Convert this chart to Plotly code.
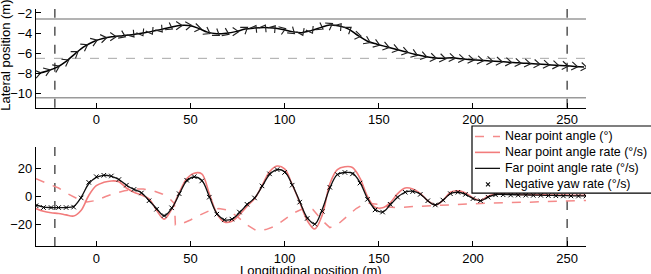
import numpy as np
import plotly.graph_objects as go

# ---------------- data ----------------
traj_x = [-31, -26, -21, -16, -11, -6, -1, 4, 9, 14, 19, 24, 29, 34, 39, 44, 49, 54, 59, 64,
          69, 74, 79, 84, 89, 94, 99, 104, 109, 114, 119, 124, 129, 134, 139, 144, 149, 154, 159, 164,
          169, 174, 179, 184, 189, 194, 199, 204, 209, 214, 219, 224, 229, 234, 239, 244, 249, 254, 259]
traj_y = [-8.0, -7.75, -7.4, -6.8, -6.0, -5.3, -4.8, -4.5, -4.35, -4.25, -4.15, -4.0, -3.85, -3.65, -3.45, -3.25, -3.25, -3.5, -3.9, -4.05,
          -4.0, -3.85, -3.6, -3.5, -3.45, -3.5, -3.65, -3.85, -3.95, -3.75, -3.45, -3.2, -3.3, -3.6, -4.25, -4.8, -5.1, -5.35, -5.6, -5.85,
          -6.1, -6.3, -6.45, -6.5, -6.45, -6.55, -6.63, -6.7, -6.76, -6.82, -6.88, -6.95, -7.0, -7.06, -7.12, -7.18, -7.24, -7.3, -7.36]
chev_angle = [15, 20, 25, 30, 35, 30, 20, 10, 0, -25, -50, -60, -60, -50, -30, 0, 5, -10, -30, -35,
              -25, 0, 35, 60, 60, 50, 20, -40, -65, -60, -30, 30, 50, 35, -10, -25, -20, -15, -15, -15,
              -20, -15, -10, -10, -8, -8, -8, -8, -8, -8, -8, -8, -8, -8, -8, -8, -8, -8, -8]

lane_lines = [-2.6, -10.4]
lane_center = [-6.5]
event_x = [-22, 250]

rate_x = [-32, -28, -24, -20, -16, -12, -8, -4, 0, 4, 8, 12, 16, 20, 24, 28, 32, 36, 40, 44,
          48, 52, 56, 60, 64, 68, 72, 76, 80, 84, 88, 92, 96, 100, 104, 108, 112, 116, 120, 124,
          128, 132, 136, 140, 144, 148, 152, 156, 160, 164, 168, 172, 176, 180, 184, 188, 192, 196, 200, 204,
          208, 212, 216, 220, 224, 228, 232, 236, 240, 244, 248, 252, 256, 260]
far_rate = [-6.0, -7.5, -7.8, -7.8, -7.8, -7.0, -0.5, 9.0, 13.5, 15.0, 14.3, 12.0, 8.0, 5.0, 2.7, -2.8, -8.5, -13.8, -8.5, 1.5,
            11.0, 13.8, 11.5, 0.0, -12.0, -16.5, -16.0, -11.5, -5.8, -1.2, 7.0, 15.5, 19.0, 17.5, 8.5, -3.5, -15.0, -19.5, -9.0, 6.0,
            15.5, 17.0, 16.5, 10.0, -1.5, -9.0, -11.0, -6.0, -0.5, 3.0, 3.7, 1.8, -3.0, -6.0, -2.8, 2.0, 3.0, 1.5, -1.5, -3.0,
            -0.5, 1.4, 1.5, 1.3, 1.2, 1.1, 1.0, 0.9, 0.8, 0.7, 0.6, 0.5, 0.4, 0.4]
near_rate = [-8.5, -10.5, -11.5, -12.0, -13.0, -13.8, -9.7, 0.7, 7.6, 10.0, 11.0, 10.5, 6.0, 3.0, 1.0, -1.6, -9.7, -16.0, -9.0, 2.5,
             12.5, 16.5, 16.0, 2.0, -12.0, -18.0, -17.5, -13.0, -7.0, -1.6, 7.6, 17.5, 21.5, 19.5, 8.5, -4.0, -17.0, -23.0, -13.0, 9.0,
             19.0, 21.0, 20.5, 13.0, 0.0, -7.5, -8.0, -4.5, 2.0, 6.0, 5.3, 2.2, -3.0, -6.0, -2.8, 3.0, 4.0, 2.5, -1.0, -2.8,
             0.2, 1.8, 1.8, 1.6, 1.5, 1.4, 1.3, 1.2, 1.1, 1.0, 1.0, 0.9, 0.9, 0.8]
yaw_rate = [-6.5, -7.8, -7.8, -7.8, -7.8, -7.5, -1.0, 10.0, 14.0, 15.0, 14.5, 12.0, 8.0, 5.0, 2.5, -3.0, -9.0, -13.5, -8.0, 2.0,
            11.5, 14.0, 11.0, -0.5, -12.5, -16.5, -16.0, -11.0, -5.5, -1.0, 7.5, 16.0, 19.0, 17.0, 8.0, -4.0, -15.5, -19.5, -10.5, 6.5,
            15.5, 17.0, 16.0, 9.5, -2.0, -9.5, -11.0, -5.5, -0.5, 3.0, 3.5, 1.5, -3.0, -6.0, -2.5, 2.0, 3.0, 1.5, -1.5, -3.0,
            -0.5, 1.2, 1.2, 1.0, 1.0, 0.9, 0.8, 0.8, 0.6, 0.5, 0.4, 0.4, 0.3, 0.3]
near_angle_x = [-32, -25, -20, -15, -10, -5, 0, 5, 10, 15, 20, 25, 30, 35, 39, 41.5, 42, 45, 50, 55,
                60, 65, 70, 75, 80, 85, 90, 95, 100, 105, 110, 115, 120, 124, 128, 132, 138, 143, 150, 155,
                160, 170, 180, 190, 200, 210, 230, 250, 260]
near_angle = [12.5, 8.7, 6.0, 1.8, -1.6, -3.9, -2.8, 0.0, 2.3, 4.0, 5.3, 5.3, 4.1, 1.8, -1.6, -5.0, -20.0, -19.5, -16.6, -13.1,
              -10.1, -8.5, -9.7, -14.3, -20.0, -24.1, -23.4, -21.0, -16.0, -11.5, -8.5, -9.2, -17.0, -22.0, -20.0, -15.4, -8.5, -4.6, -5.5, -7.5,
              -7.8, -7.0, -6.4, -6.0, -5.2, -4.6, -4.0, -3.2, -2.8]

legend_names = ["Near point angle (°)", "Near point angle rate (°/s)",
                "Far point angle rate (°/s)", "Negative yaw rate (°/s)"]

x_ticks = [0, 50, 100, 150, 200, 250]
top_y_ticks = [-10, -8, -6, -4, -2]
bot_y_ticks = [-20, 0, 20]

# ---------------- layout geometry ----------------
W_FIG, H_FIG = 651, 274
M_L, M_R, M_T, M_B = 36, 65, 5, 28
PW = W_FIG - M_L - M_R
PH = H_FIG - M_T - M_B
XR = [-32, 260]
TOP_DOM = [0.581, 0.996]
BOT_DOM = [0.0, 0.416]
TOP_YR = [-11.4, -1.6]
BOT_YR = [-35, 35]

FONT = "Liberation Sans, Arial, sans-serif"
SALMON = "#F27C7C"
SALMON_D = "#F48A8A"

px_per_x = PW / (XR[1] - XR[0])
px_per_y = PH * (TOP_DOM[1] - TOP_DOM[0]) / (TOP_YR[1] - TOP_YR[0])

fig = go.Figure()

fig.add_trace(go.Scatter(x=traj_x, y=traj_y, mode="lines", line=dict(color="black", width=1.5, shape="spline"),
                         showlegend=False, xaxis="x", yaxis="y", hoverinfo="skip"))

# chevrons centred on trajectory points (fixed pixel size)
L, Wd = 6.0, 4.2
cx, cy = [], []
for xv, yv, a in zip(traj_x, traj_y, chev_angle):
    t = np.deg2rad(a)
    c, s = np.cos(t), np.sin(t)
    apex = (0.5 * L * c, 0.5 * L * s)
    e1 = (-0.5 * L * c - Wd * s, -0.5 * L * s + Wd * c)
    e2 = (-0.5 * L * c + Wd * s, -0.5 * L * s - Wd * c)
    cx += [xv + e1[0] / px_per_x, xv + apex[0] / px_per_x, xv + e2[0] / px_per_x, None]
    cy += [yv + e1[1] / px_per_y, yv + apex[1] / px_per_y, yv + e2[1] / px_per_y, None]
fig.add_trace(go.Scatter(x=cx, y=cy, mode="lines", line=dict(color="#222222", width=1.15),
                         showlegend=False, xaxis="x", yaxis="y", hoverinfo="skip"))

fig.add_trace(go.Scatter(x=near_angle_x, y=near_angle, mode="lines", name=legend_names[0],
                         line=dict(color=SALMON_D, width=1.5, dash="dash"), xaxis="x2", yaxis="y2", showlegend=False))
fig.add_trace(go.Scatter(x=rate_x, y=near_rate, mode="lines", name=legend_names[1],
                         line=dict(color=SALMON, width=1.6, shape="spline"), xaxis="x2", yaxis="y2", showlegend=False))
fig.add_trace(go.Scatter(x=rate_x, y=far_rate, mode="lines", name=legend_names[2],
                         line=dict(color="#111111", width=1.3, shape="spline"), xaxis="x2", yaxis="y2", showlegend=False))
fig.add_trace(go.Scatter(x=rate_x, y=yaw_rate, mode="markers", name=legend_names[3],
                         marker=dict(symbol="x-thin", size=4.5, line=dict(color="black", width=1), color="black"),
                         xaxis="x2", yaxis="y2", showlegend=False))

shapes = []
for v in lane_lines:
    shapes.append(dict(type="line", xref="x domain", yref="y", x0=0, x1=1, y0=v, y1=v,
                       line=dict(color="#9a9a9a", width=1.5), layer="below"))
for v in lane_center:
    shapes.append(dict(type="line", xref="x domain", yref="y", x0=0, x1=1, y0=v, y1=v,
                       line=dict(color="#a8a8a8", width=1, dash="dash"), layer="below"))
for ax in ["", "2"]:
    for v in event_x:
        shapes.append(dict(type="line", xref="x" + ax, yref="y" + ax + " domain", x0=v, x1=v, y0=0, y1=1,
                           line=dict(color="#555555", width=1.5, dash="dash"), layer="below"))

# ---------------- hand-drawn legend (paper coordinates) ----------------
def px2paper_x(p):
    return (p - M_L) / PW

def px2paper_y(p):
    return (H_FIG - M_B - p) / PH

leg_left, leg_right, leg_top, leg_bot = 472, 660, 124.5, 192.5
shapes.append(dict(type="rect", xref="paper", yref="paper",
                   x0=px2paper_x(leg_left), x1=px2paper_x(leg_right),
                   y0=px2paper_y(leg_bot), y1=px2paper_y(leg_top),
                   line=dict(color="black", width=1.2), fillcolor="white", layer="above"))
row_y = [135, 151.2, 167.4, 183.6]
samp_x0, samp_x1, text_x = 475, 500, 503
styles = [dict(color=SALMON_D, width=1.5, dash="dash"), dict(color=SALMON, width=1.6),
          dict(color="#111111", width=1.3)]
for i, st in enumerate(styles):
    yy = px2paper_y(row_y[i])
    shapes.append(dict(type="line", xref="paper", yref="paper", x0=px2paper_x(samp_x0), x1=px2paper_x(samp_x1),
                       y0=yy, y1=yy, line=st, layer="above"))
mx, my, r = 488, row_y[3], 2.0
for sgn in (1, -1):
    shapes.append(dict(type="line", xref="paper", yref="paper",
                       x0=px2paper_x(mx - r), x1=px2paper_x(mx + r),
                       y0=px2paper_y(my - sgn * r), y1=px2paper_y(my + sgn * r),
                       line=dict(color="black", width=1.1), layer="above"))

annotations = [
    dict(text="Lateral position (m)", xref="paper", yref="paper", x=-0.056, y=0.80,
         xanchor="center", yanchor="middle", textangle=-90, showarrow=False,
         font=dict(family=FONT, size=13, color="black")),
    dict(text="Longitudinal position (m)", xref="paper", yref="paper", x=0.5, y=px2paper_y(270.5),
         xanchor="center", yanchor="middle", showarrow=False,
         font=dict(family=FONT, size=13, color="black")),
]
for i, name in enumerate(legend_names):
    annotations.append(dict(text=name, xref="paper", yref="paper", x=px2paper_x(text_x), y=px2paper_y(row_y[i]),
                            xanchor="left", yanchor="middle", showarrow=False,
                            font=dict(family=FONT, size=12.4, color="black")))

axis_common = dict(showline=True, linecolor="black", linewidth=1.2, ticks="inside", ticklen=5,
                   tickcolor="black", showgrid=False, zeroline=False,
                   tickfont=dict(family=FONT, size=13, color="black"))

fig.update_layout(
    width=W_FIG, height=H_FIG,
    margin=dict(l=M_L, r=M_R, t=M_T, b=M_B),
    paper_bgcolor="white", plot_bgcolor="white",
    font=dict(family=FONT, size=13, color="black"),
    showlegend=False,
    shapes=shapes,
    annotations=annotations,
    xaxis=dict(domain=[0, 1], range=XR, tickvals=x_ticks, anchor="y", **axis_common),
    yaxis=dict(domain=TOP_DOM, range=TOP_YR, tickvals=top_y_ticks, anchor="x", **axis_common),
    xaxis2=dict(domain=[0, 1], range=XR, tickvals=x_ticks, anchor="y2", **axis_common),
    yaxis2=dict(domain=BOT_DOM, range=BOT_YR, tickvals=bot_y_ticks, anchor="x2", **axis_common),
)

fig.write_html("out.html")
